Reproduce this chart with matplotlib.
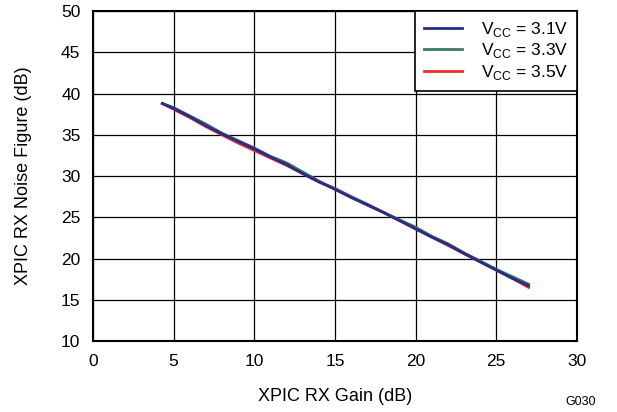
import matplotlib.pyplot as plt

plt.rcParams['font.family'] = ['Liberation Sans', 'DejaVu Sans']
plt.rcParams['mathtext.fontset'] = 'custom'
plt.rcParams['mathtext.rm'] = 'Liberation Sans'

gain = [4.3, 5, 6, 7, 8, 9, 10, 11, 12, 13, 14, 15, 16, 17, 18, 19, 20, 21, 22, 23, 24, 25, 26, 27.0]
nf_31 = [38.8, 38.2, 37.2, 36.1, 35.1, 34.2, 33.3, 32.3, 31.4, 30.3, 29.3, 28.4,
         27.4, 26.5, 25.6, 24.6, 23.6, 22.6, 21.7, 20.6, 19.6, 18.6, 17.6, 16.7]
nf_33 = [38.8, 38.3, 37.3, 36.3, 35.2, 34.3, 33.4, 32.4, 31.6, 30.5, 29.4, 28.4,
         27.5, 26.6, 25.6, 24.7, 23.8, 22.7, 21.8, 20.7, 19.7, 18.7, 17.8, 16.9]
nf_35 = [38.8, 38.1, 37.1, 36.0, 35.0, 34.0, 33.1, 32.2, 31.3, 30.3, 29.3, 28.5,
         27.5, 26.5, 25.6, 24.6, 23.6, 22.6, 21.6, 20.6, 19.6, 18.6, 17.6, 16.5]
labels = [r'V$_{\mathrm{CC}}$ = 3.1V', r'V$_{\mathrm{CC}}$ = 3.3V', r'V$_{\mathrm{CC}}$ = 3.5V']
colors = ['#2a2a8c', '#3d7a5a', '#ee2a2a']

fig = plt.figure(figsize=(6.17, 4.12), dpi=100)
ax = fig.add_axes([0.1507, 0.1723, 0.7844, 0.8007])

# draw in reverse so the blue line sits on top like the reference
for nf, lab, c in reversed(list(zip([nf_31, nf_33, nf_35], labels, colors))):
    ax.plot(gain, nf, color=c, lw=2, label=lab)

ax.set_xlim(0, 30)
ax.set_ylim(10, 50)
ax.set_xticks(range(0, 31, 5))
ax.set_yticks(range(10, 51, 5))
ax.grid(True, color='black', lw=0.9)
ax.set_axisbelow(True)
ax.tick_params(length=0, labelsize=12.5, pad=9)
for s in ax.spines.values():
    s.set_linewidth(1.5)

ax.set_xlabel('XPIC RX Gain (dB)', fontsize=13, labelpad=14)
ax.set_ylabel('XPIC RX Noise Figure (dB)', fontsize=13, labelpad=21)

h, l = ax.get_legend_handles_labels()
leg = ax.legend(h[::-1], l[::-1], loc='upper right', fontsize=12.5, fancybox=False,
                framealpha=1, edgecolor='black', borderaxespad=0, handlelength=2.2,
                labelspacing=0.15, borderpad=0.5, handletextpad=1.1)
leg.get_frame().set_linewidth(1.2)

fig.text(0.965, 0.018, 'G030', fontsize=9, ha='right')

fig.savefig('out.png', dpi=100)
